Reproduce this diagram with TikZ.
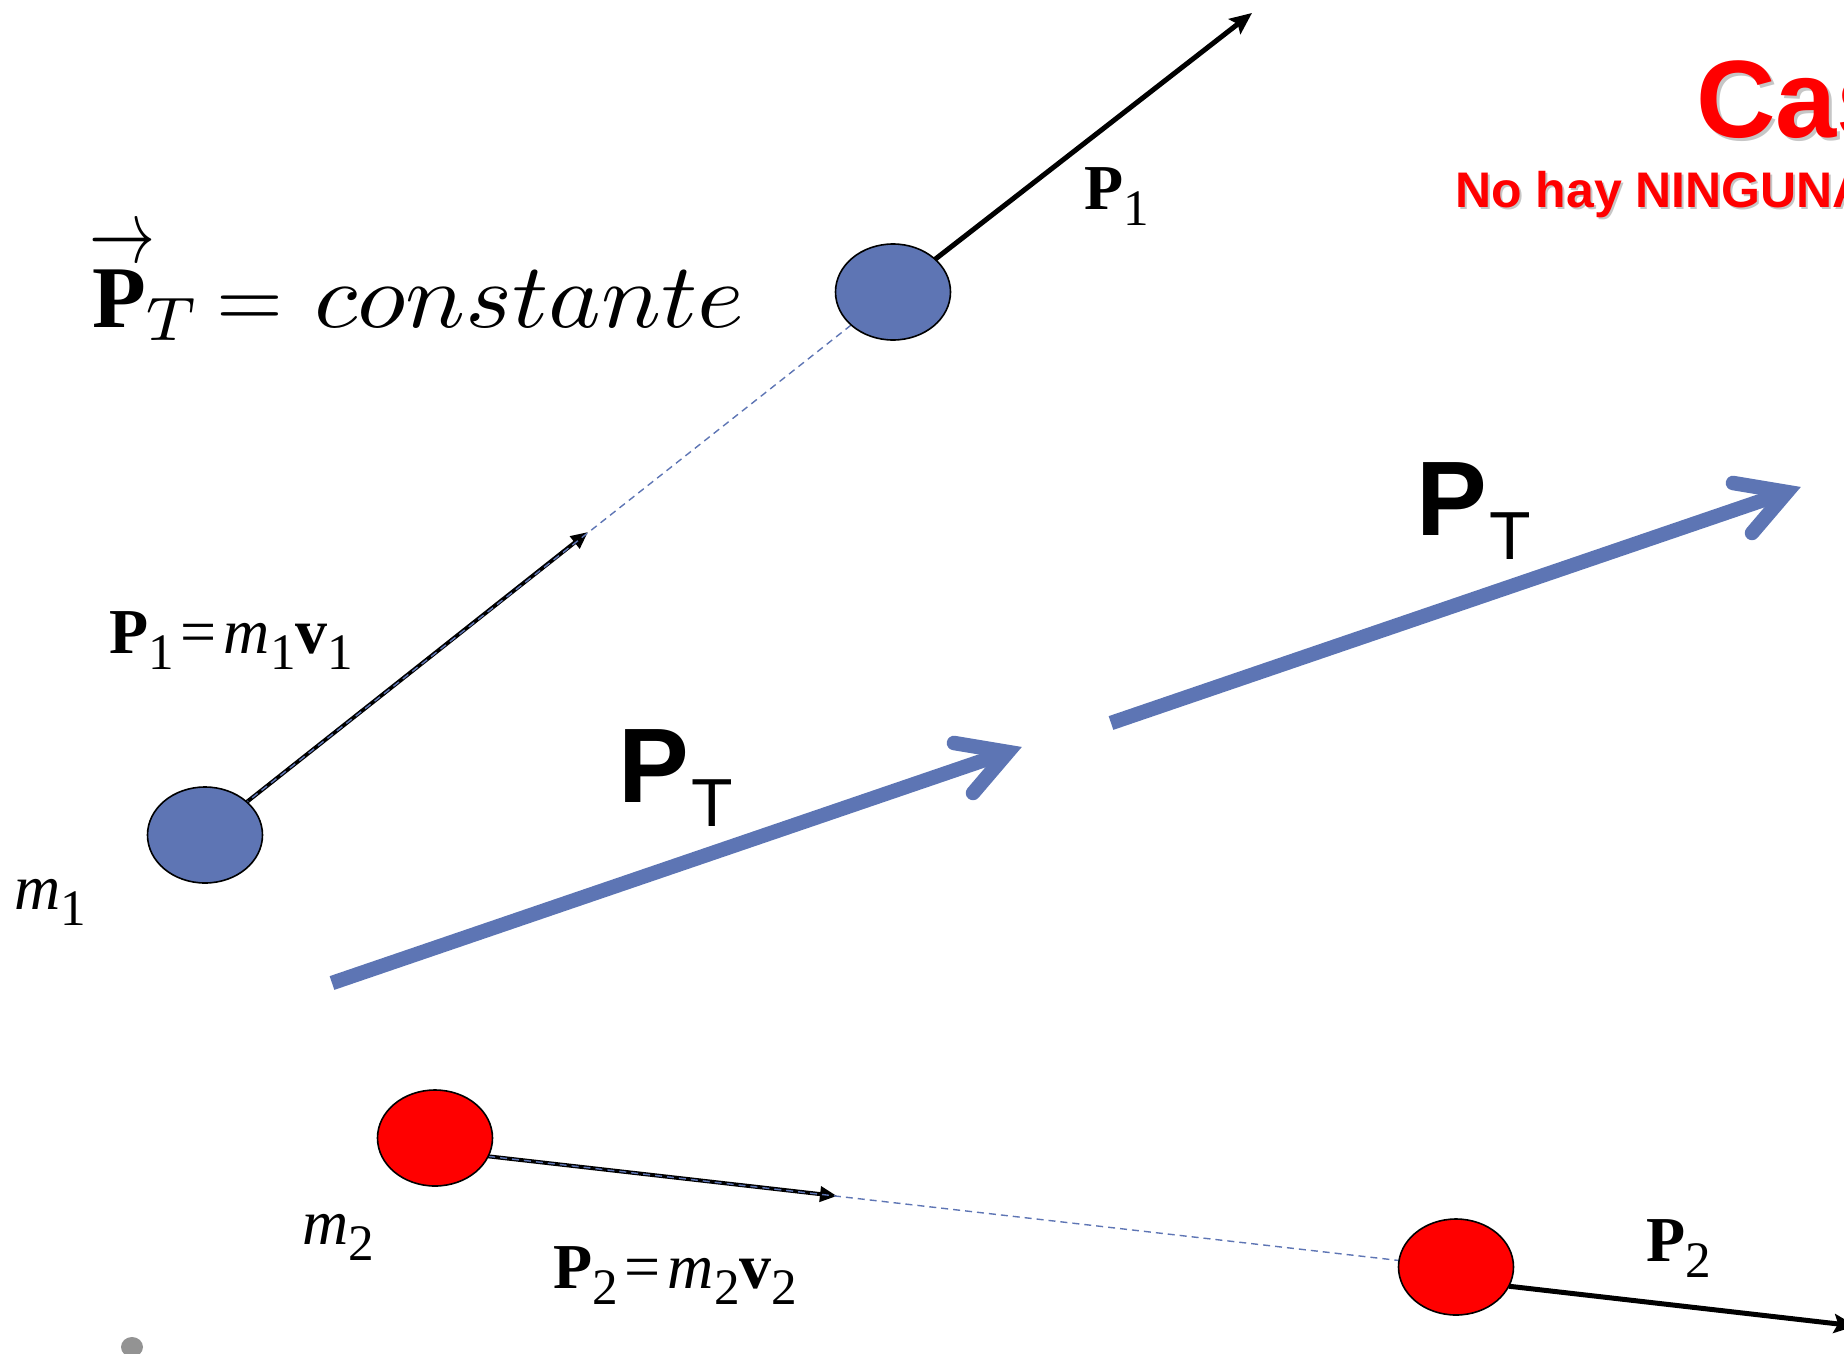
\documentclass[tikz,border=0pt]{standalone}
\usepackage{fontspec}
\setmainfont{Liberation Serif}
\newfontfamily\arialf{Liberation Sans}
\usetikzlibrary{shapes.geometric,arrows.meta}
\pgfdeclarelayer{bg}
\pgfsetlayers{bg,main}
\definecolor{ballblue}{RGB}{94,117,180}
\definecolor{ptblue}{RGB}{93,117,180}
\newcommand\lowsub[1]{\raisebox{-0.25em}{\scalebox{0.8}{#1}}}
\tikzset{
  ball/.style={ellipse, draw=black, line width=1.6pt, minimum width=115pt, minimum height=96pt, inner sep=0pt, outer sep=0pt},
  bball/.style={ball, fill=ballblue},
  rball/.style={ball, fill=red},
  trail/.style={draw=ballblue, line width=1.4pt, dash pattern=on 7pt off 5pt},
  mom/.style={draw=black, line width=4pt, -{Triangle[length=17pt,width=15pt]}},
  bigmom/.style={draw=black, line width=5pt, -{Stealth[length=22pt,width=19pt,inset=4pt]}},
  ptshaft/.style={draw=ptblue, line width=14.5pt},
  pthead/.style={draw=ptblue, line width=14.5pt, line cap=round, line join=miter},
  lbl/.style={anchor=base west, inner sep=0pt, outer sep=0pt, font=\fontsize{64}{70}\selectfont},
  ptlbl/.style={anchor=base west, inner sep=0pt, outer sep=0pt, font=\arialf\fontsize{106}{110}\selectfont},
  eqn/.style={anchor=base west, inner sep=0pt, outer sep=0pt},
}
\begin{document}
\begin{tikzpicture}[x=1pt,y=-1pt]
\useasboundingbox (0,0) rectangle (1844,1354);
\clip (0,0) rectangle (1844,1354);

% balls
\node[bball] (b1) at (205,835) {};
\node[bball] (b1t) at (893,292) {};
\node[rball] (b2) at (435,1138) {};
\node[rball] (b2f) at (1456,1267) {};
\node[ellipse, fill=gray!85, draw=none, minimum width=22pt, minimum height=20pt, inner sep=0pt] (dot) at (132,1347) {};

% free ends
\coordinate (tip1) at (588,532);
\coordinate (tipT) at (1252,13);
\coordinate (tip2) at (837,1196);
\coordinate (tipF) at (1856,1326);
\coordinate (pt1s) at (332,983);
\coordinate (pt1v) at (1008,752);
\coordinate (pt1a) at (954,743);
\coordinate (pt1b) at (973,793);
\coordinate (pt2s) at (1111,723);
\coordinate (pt2v) at (1787,492);
\coordinate (pt2a) at (1733,483);
\coordinate (pt2b) at (1752,533);

\begin{pgfonlayer}{bg}
\clip (0,0) rectangle (1844,1354);
% total momentum arrows
\draw[ptshaft] (pt1s) -- (pt1v);
\draw[pthead] (pt1a) -- (pt1v) -- (pt1b);
\draw[ptshaft] (pt2s) -- (pt2v);
\draw[pthead] (pt2a) -- (pt2v) -- (pt2b);
% momentum arrows
\draw[mom] (b1) -- (tip1);
\draw[bigmom] (b1t) -- (tipT);
\draw[mom] (b2.-19) -- (tip2);
\draw[bigmom] (b2f.-20) -- (tipF);
% trajectories
\draw[trail] (b1.center) -- (b1t.center);
\draw[trail] (b2.-19) -- (b2f.center);
\end{pgfonlayer}

% labels
\node[lbl] (lp1) at (109,653) {\textbf{P}\lowsub{1}\kern7pt=\kern7pt\textit{m}\lowsub{1}\textbf{v}\lowsub{1}};
\node[lbl] (lm1) at (14,909) {\textit{m}\lowsub{1}};
\node[lbl] (lP1) at (1084,209) {\textbf{P}\lowsub{1}};
\node[lbl] (lp2) at (553,1288) {\textbf{P}\lowsub{2}\kern7pt=\kern7pt\textit{m}\lowsub{2}\textbf{v}\lowsub{2}};
\node[lbl] (lm2) at (302,1244) {\textit{m}\lowsub{2}};
\node[lbl] (lP2) at (1646,1261) {\textbf{P}\lowsub{2}};

\node[ptlbl] (lpt1) at (618,802) {\bfseries P\kern3pt\raisebox{-24pt}{\mdseries\fontsize{68}{70}\selectfont T}};
\node[ptlbl] (lpt2) at (1416,535) {\bfseries P\kern3pt\raisebox{-24pt}{\mdseries\fontsize{68}{70}\selectfont T}};

% formula
\node[eqn] (fP) at (92,327) {\scalebox{8.8}{$\mathbf{P}_{T}$}};
\node[anchor=west, inner sep=0pt, outer sep=0pt] (farr) at (89,246) {\scalebox{6.6}[9]{$\rightarrow$}};
\node[eqn] (feq) at (216,327) {\scalebox{8.6}{$=$}};
\node[eqn] (fc) at (314,327) {\scalebox{10}[9.2]{$constante$}};

% title
\node[anchor=base west, inner sep=0pt, text=gray!45, font=\arialf\bfseries\fontsize{110}{120}\selectfont] (titlesh) at (1699,140) {Cas};
\node[anchor=base west, inner sep=0pt, text=red, font=\arialf\bfseries\fontsize{110}{120}\selectfont] (title) at (1696,137) {Cas};
\node[anchor=base west, inner sep=0pt, text=gray!45, font=\arialf\bfseries\fontsize{50}{55}\selectfont] (subsh) at (1457,209.5) {No hay NINGUNA};
\node[anchor=base west, inner sep=0pt, text=red, font=\arialf\bfseries\fontsize{50}{55}\selectfont] (sub) at (1455,207) {No hay NINGUNA};
\end{tikzpicture}
\end{document}
